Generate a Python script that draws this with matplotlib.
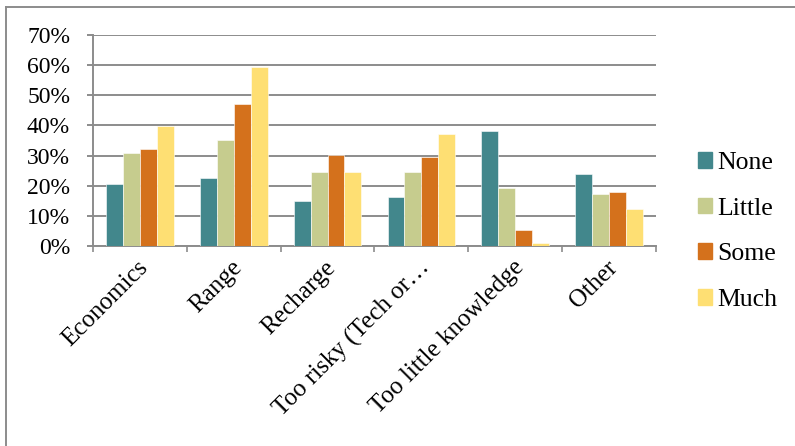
import numpy as np
import matplotlib.pyplot as plt
from matplotlib.lines import Line2D
from matplotlib.patches import Rectangle

categories = ['Economics', 'Range', 'Recharge', 'Too risky (Tech or…',
              'Too little knowledge', 'Other']
series = ['None', 'Little', 'Some', 'Much']
none_vals = [20.6, 22.4, 14.9, 16.4, 38.1, 23.8]
little_vals = [30.9, 35.1, 24.5, 24.7, 19.1, 17.1]
some_vals = [32.2, 47.2, 30.1, 29.6, 5.4, 17.9]
much_vals = [39.8, 59.4, 24.6, 37.3, 0.9, 12.2]
colors = ['#42878C', '#C6CC8E', '#D4711C', '#FEDF73']

plt.rcParams['font.family'] = ['Liberation Serif', 'DejaVu Serif']

fig = plt.figure(figsize=(7.95, 4.46), dpi=100)
ax = fig.add_axes([0.117, 0.4484, 0.708, 0.4731])

x = np.arange(len(categories))
w = 0.18
for i, vals in enumerate([none_vals, little_vals, some_vals, much_vals]):
    ax.bar(x + (i - 1.5) * w, vals, w, color=colors[i], label=series[i],
           edgecolor='white', linewidth=0.4, zorder=3)

ax.set_xlim(-0.5, len(categories) - 0.5)
ax.set_ylim(0, 70)
ax.set_yticks(range(0, 80, 10))
ax.set_yticklabels([f'{v}%' for v in range(0, 80, 10)], fontsize=17)
ax.yaxis.grid(True, color='#8C8C8C', linewidth=1.4, zorder=0)
ax.set_xticks(np.arange(-0.5, len(categories), 1))
ax.set_xticklabels([])
ax.tick_params(axis='x', length=4.5, width=1.2, color='#8C8C8C', direction='out')
ax.tick_params(axis='y', length=4.5, width=1.4, color='#8C8C8C', pad=12)
for s in ['top', 'right']:
    ax.spines[s].set_visible(False)
for s in ['left', 'bottom']:
    ax.spines[s].set_color('#8C8C8C')
    ax.spines[s].set_linewidth(1.4)

# rotated category names under each group
for xi, lab in zip(x, categories):
    ax.text(xi - 0.03, -0.05, lab, transform=ax.get_xaxis_transform(),
            rotation=45, ha='right', va='top', rotation_mode='anchor',
            fontsize=18)

handles = [Rectangle((0, 0), 1, 1, color=c) for c in colors]
fig.legend(handles, series, loc='center left', bbox_to_anchor=(0.878, 0.481),
           frameon=False, fontsize=18.5, handlelength=0.55, handleheight=0.55,
           handletextpad=0.2, labelspacing=0.92, borderpad=0, borderaxespad=0)

# chart frame: top and left edges only
fig.add_artist(Line2D([0.008, 1.0], [0.985, 0.985], color='#8C8C8C', lw=1.4,
                      transform=fig.transFigure))
fig.add_artist(Line2D([0.008, 0.008], [0.0, 0.985], color='#8C8C8C', lw=1.4,
                      transform=fig.transFigure))

fig.savefig('out.png', dpi=100)
